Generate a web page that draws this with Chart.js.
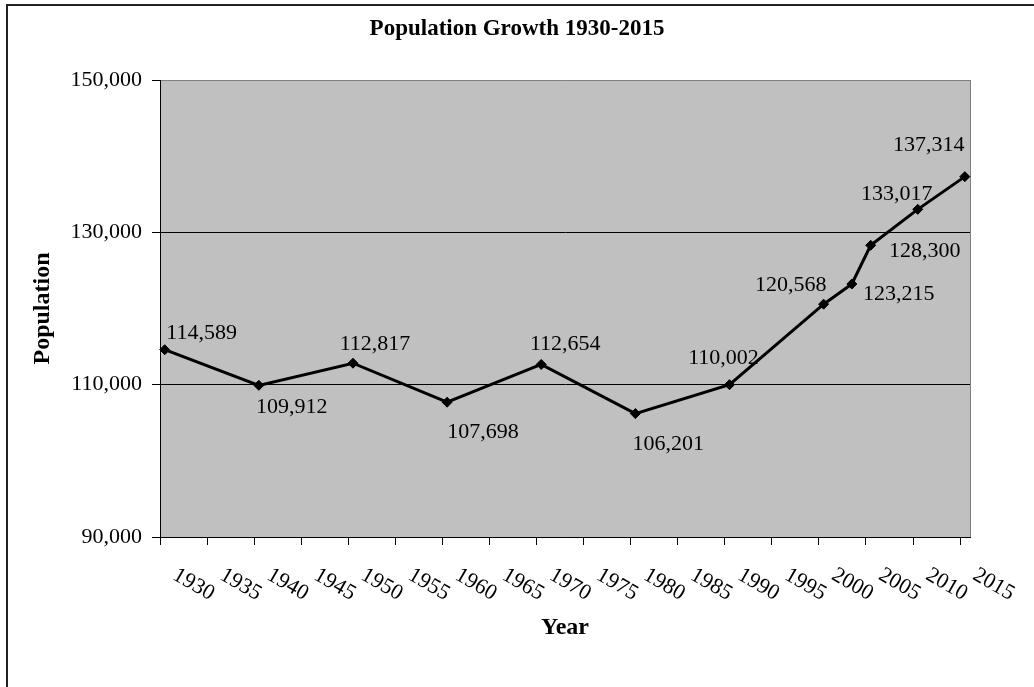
<!DOCTYPE html>
<html>
<head>
<meta charset="utf-8">
<title>Population Growth 1930-2015</title>
<script src="https://cdn.jsdelivr.net/npm/chart.js@4.4.1/dist/chart.umd.min.js"></script>
<style>
  body { margin: 0; background: #fff; }
  canvas { display: block; }
</style>
</head>
<body>
<canvas id="popChart" width="1034" height="687"></canvas>
<script>
// chart data
const years = [1930, 1940, 1950, 1960, 1970, 1980, 1990, 2000, 2003, 2005, 2010, 2015];
const population = [114589, 109912, 112817, 107698, 112654, 106201, 110002, 120568, 123215, 128300, 133017, 137314];
const yearLabels = ['1930', '1935', '1940', '1945', '1950', '1955', '1960', '1965', '1970',
    '1975', '1980', '1985', '1990', '1995', '2000', '2005', '2010', '2015'];
const popTicks = [90000, 110000, 130000, 150000];

// where each value label sits, relative to its point (px)
const labelOffsets = [[37, -16], [33, 22], [22, -19], [36, 30], [24, -20], [33, 31],
    [-6, -26], [-33, -19], [47, 10], [54, 6], [-21, -15], [-36, -31]];

const serif = "'Liberation Serif', 'Times New Roman', serif";
// the year ticks sit half a year left of the points in the original
const X_MIN = 1929.5, X_MAX = 2015.55;

const fmt = v => Number(v).toLocaleString('en-US');

// grey plot area + outer frame
const plotBackground = {
    id: 'plotBackground',
    beforeDraw(chart) {
        const ctx = chart.ctx, a = chart.chartArea;
        ctx.save();
        ctx.strokeStyle = '#222';
        ctx.lineWidth = 2;
        ctx.strokeRect(7, 5, 1100, 800);
        ctx.fillStyle = '#c0c0c0';
        ctx.fillRect(a.left, a.top, a.right - a.left, a.bottom - a.top);
        ctx.strokeStyle = '#808080';
        ctx.lineWidth = 1;
        ctx.beginPath();
        ctx.moveTo(a.right + 0.5, a.top);
        ctx.lineTo(a.right + 0.5, a.bottom);
        ctx.stroke();
        ctx.restore();
    }
};

// slanted year labels under the x axis
const yearTickLabels = {
    id: 'yearTickLabels',
    afterDraw(chart) {
        const ctx = chart.ctx, xs = chart.scales.x;
        ctx.save();
        ctx.fillStyle = '#000';
        ctx.font = '22px ' + serif;
        ctx.textAlign = 'left';
        ctx.textBaseline = 'top';
        xs.ticks.forEach((t, i) => {
            const px = xs.getPixelForValue(t.value);
            ctx.save();
            ctx.translate(px + 20, xs.top + 27);
            ctx.rotate(Math.PI / 6);
            ctx.fillText(yearLabels[i], 0, 0);
            ctx.restore();
        });
        ctx.restore();
    }
};

// value labels next to the points
const valueLabels = {
    id: 'valueLabels',
    afterDatasetsDraw(chart) {
        const ctx = chart.ctx;
        const pts = chart.getDatasetMeta(0).data;
        ctx.save();
        ctx.fillStyle = '#000';
        ctx.font = '22px ' + serif;
        ctx.textAlign = 'center';
        ctx.textBaseline = 'middle';
        pts.forEach((p, i) => {
            ctx.fillText(fmt(population[i]), p.x + labelOffsets[i][0], p.y + labelOffsets[i][1]);
        });
        ctx.restore();
    }
};

var ctx = document.getElementById('popChart').getContext('2d');
var popChart = new Chart(ctx, {
    type: 'line',
    data: {
        datasets: [{
            label: 'Population',
            data: years.map((y, i) => ({ x: y, y: population[i] })),
            borderColor: '#000',
            borderWidth: 3,
            backgroundColor: '#000',
            pointStyle: 'rectRot',
            pointRadius: 5,
            pointBorderWidth: 1,
            tension: 0,
            clip: false
        }]
    },
    options: {
        responsive: false,
        animation: false,
        layout: {
            padding: 0
        },
        plugins: {
            legend: { display: false },
            tooltip: { enabled: false },
            title: {
                display: true,
                text: 'Population Growth 1930-2015',
                color: '#000',
                font: { family: serif, size: 23, weight: 'bold', lineHeight: 1.2 },
                padding: { top: 15.2, bottom: 37.2 }
            }
        },
        scales: {
            x: {
                type: 'linear',
                min: X_MIN,
                max: X_MAX,
                afterBuildTicks: s => { s.ticks = yearLabels.map((l, i) => ({ value: X_MIN + 5 * i })); },
                afterFit: s => { s.height = 150; },
                grid: {
                    drawOnChartArea: false,
                    tickLength: 8,
                    color: '#000',
                    tickColor: '#000'
                },
                border: { color: '#000', width: 1 },
                ticks: { display: false },
                title: {
                    display: true,
                    text: 'Year',
                    color: '#000',
                    font: { family: serif, size: 24, weight: 'bold', lineHeight: 1.2 },
                    padding: { top: 0, bottom: 44.6 }
                }
            },
            y: {
                min: 90000,
                max: 150000,
                afterBuildTicks: s => { s.ticks = popTicks.map(v => ({ value: v })); },
                afterFit: s => { s.width = 160; },
                grid: {
                    color: c => (c.tick && c.tick.value === 150000) ? '#808080' : '#000',
                    tickColor: '#000',
                    tickLength: 8
                },
                border: { color: '#000', width: 1 },
                ticks: {
                    padding: 10,
                    color: '#000',
                    font: { family: serif, size: 22 },
                    callback: v => fmt(v)
                },
                title: {
                    display: true,
                    text: 'Population',
                    color: '#000',
                    font: { family: serif, size: 24, weight: 'bold', lineHeight: 1.2 },
                    padding: { top: 28.6, bottom: 0 }
                }
            },
            // empty right-hand axis, only keeps the white margin right of the plot
            yRight: {
                position: 'right',
                grid: { display: false },
                border: { display: false },
                ticks: { display: false },
                afterFit: s => { s.width = 64; }
            }
        }
    },
    plugins: [plotBackground, yearTickLabels, valueLabels]
});
</script>
</body>
</html>
